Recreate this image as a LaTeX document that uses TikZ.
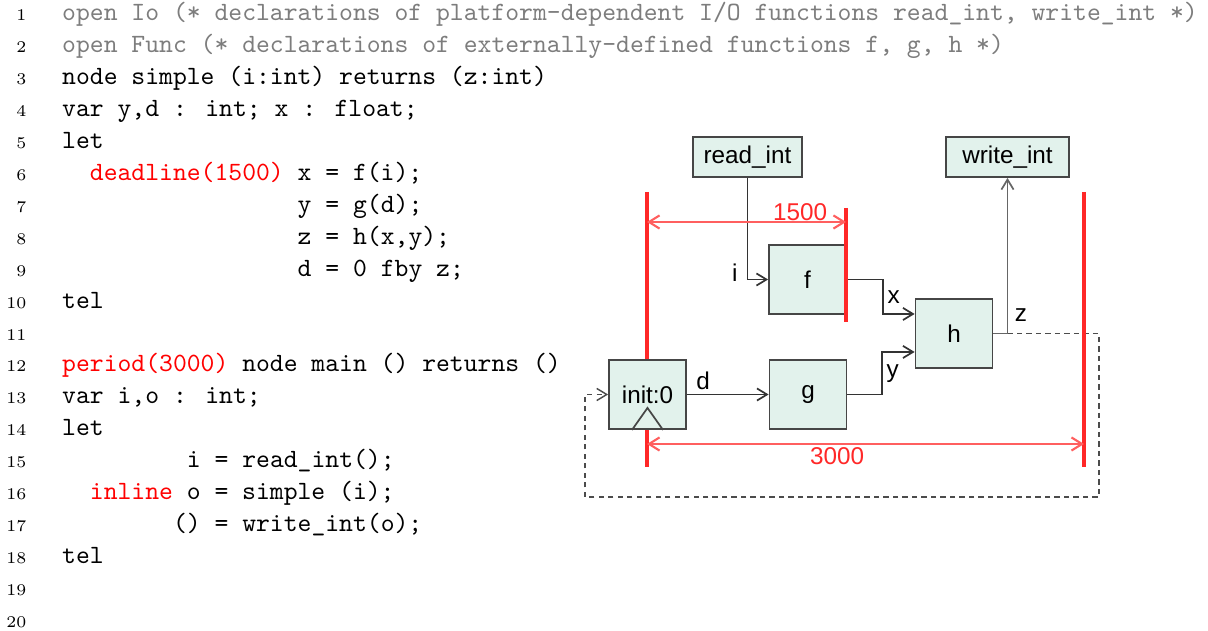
\documentclass[tikz,border=0pt]{standalone}
\usepackage{fontspec}
\newfontfamily\diagfont{Liberation Sans}
\usetikzlibrary{arrows.meta}

\definecolor{boxfill}{RGB}{226,242,236}
\definecolor{boxline}{RGB}{70,70,70}
\definecolor{codegray}{RGB}{125,125,125}
\definecolor{timered}{RGB}{255,40,40}
\definecolor{spanred}{RGB}{255,95,95}

\begin{document}
\begin{tikzpicture}[x=0.3791pt,y=-0.3791pt,>={Straight Barb[length=3.8pt,width=4.6pt]},
  code/.style={anchor=base west,inner sep=0pt,font=\ttfamily\fontsize{10}{12}\selectfont},
  lineno/.style={anchor=base east,inner sep=0pt,font=\fontsize{6.2}{7}\selectfont},
  block/.style={draw=boxline,fill=boxfill,line width=0.65pt,inner sep=0pt,
    font=\diagfont\fontsize{9.2}{11}\selectfont,minimum width=29.2pt,minimum height=26.2pt},
  io node/.style={block,minimum height=15.2pt},
  lbl/.style={font=\diagfont\fontsize{9.2}{11}\selectfont,inner sep=1.5pt},
  wire/.style={draw=black!80,line width=0.65pt},
  hv/.style={to path={-| (\tikztotarget) \tikztonodes}},
  vh/.style={to path={|- (\tikztotarget) \tikztonodes}},
  timeline/.style={draw=timered,line width=1.2pt},
  dimline/.style={draw=spanred,line width=0.8pt,<->,>={Straight Barb[length=4pt,width=5pt]}}]
  \useasboundingbox (0,0) rectangle (1208,631);

  % listing
  \foreach \n in {1,...,20}
    \node[lineno] (n\n) at (27,{21+(\n-1)*31.9}) {\n};
  \node[code,text=codegray] (l1) at (61.7,21) {open Io (* declarations of platform-dependent I/O functions read\_int, write\_int *)};
  \node[code,text=codegray] (l2) at (61.7,52.9) {open Func (* declarations of externally-defined functions f, g, h *)};
  \node[code] (l3) at (61.7,84.8) {node simple (i:int) returns (z:int)};
  \node[code] (l4) at (61.7,116.7) {var y,d : int; x : float;};
  \node[code] (l5) at (61.7,148.6) {let};
  \node[code] (l6) at (89.4,180.5) {\textcolor{red}{deadline(1500)} x = f(i);};
  \node[code] (l7) at (297.2,212.4) {y = g(d);};
  \node[code] (l8) at (297.2,244.3) {z = h(x,y);};
  \node[code] (l9) at (297.2,276.2) {d = 0 fby z;};
  \node[code] (l10) at (61.7,308.1) {tel};
  \node[code] (l12) at (61.7,371.9) {\textcolor{red}{period(3000)} node main () returns ()};
  \node[code] (l13) at (61.7,403.8) {var i,o : int;};
  \node[code] (l14) at (61.7,435.7) {let};
  \node[code] (l15) at (186.4,467.6) {i = read\_int();};
  \node[code] (l16) at (89.4,499.5) {\textcolor{red}{inline} o = simple (i);};
  \node[code] (l17) at (172.5,531.4) {() = write\_int(o);};
  \node[code] (l18) at (61.7,563.3) {tel};

  % diagram
  \coordinate (p0top) at (647,192);
  \coordinate (p0bot) at (647,467);
  \coordinate (p1top) at (1084,192);
  \coordinate (p1bot) at (1084,467);
  \coordinate (dtop) at (846,208);
  \coordinate (dbot) at (846,322);
  \coordinate (dl) at (647,222);
  \coordinate (dr) at (846,222);
  \coordinate (pl) at (647,444);
  \coordinate (pr) at (1084,444);
  \coordinate (loopR) at (1099,497);
  \coordinate (loopL) at (585,497);
  \draw[timeline] (p0top) -- (p0bot);

  \node[io node,minimum width=41.3pt] (readint) at (747.5,157) {read\_int};
  \node[io node,minimum width=46.6pt] (writeint) at (1007.5,157) {write\_int};
  \node[block] (f) at (807.5,279.5) {f};
  \node[block] (init) at (647.5,394.5) {init:0};
  \node[block] (g) at (808,394.5) {g};
  \node[block] (h) at (954,333.5) {h};
  \draw[boxline,line width=0.65pt] (init.south) ++(-15.5,0) -- ++(15.5,-22) -- ++(15.5,22);

  \path[every node/.style={lbl},every edge/.append style={wire,->}]
    (readint.south) edge[vh] node[pos=0.5,anchor=base east,xshift=-2pt,yshift=-0.7pt] {i} (f.west)
    (f.east) edge[to path={-- ++(36,0) |- (\tikztotarget) \tikztonodes}] node[pos=0.25,right] {x} ([yshift=7.4pt]h.west)
    (g.east) edge[to path={-- ++(34.5,0) |- (\tikztotarget) \tikztonodes}] node[pos=0.25,right] {y} ([yshift=-7pt]h.west)
    (init.east) edge node[pos=0.2,above] {d} (g.west);
  \draw[wire,draw=black!60,->] (h.east) -| node[lbl,pos=0.56,right,xshift=1pt] {z} (writeint.south);
  \draw[draw=black!70,line width=0.55pt,dash pattern=on 2pt off 1.6pt,->]
    (h.east -| writeint.south) -| (loopR) -- (loopL) |- (init.west);

  \draw[timeline] (dtop) -- (dbot);
  \draw[timeline] (p1top) -- (p1bot);
  \draw[dimline] (dl) -- node[lbl,pos=0.77,above,inner sep=0pt,text=timered] {1500} (dr);
  \draw[dimline] (pl) -- node[lbl,pos=0.435,below,inner sep=1pt,text=timered] {3000} (pr);
\end{tikzpicture}
\end{document}
